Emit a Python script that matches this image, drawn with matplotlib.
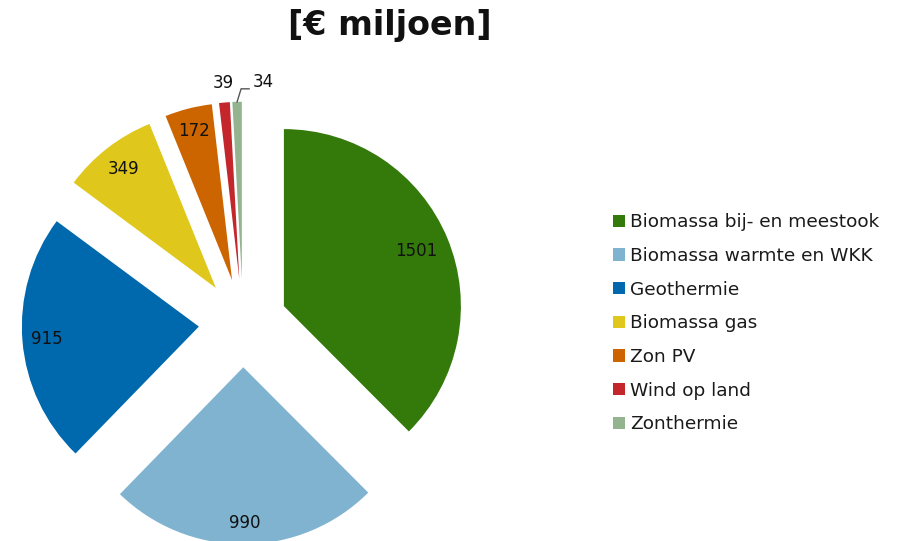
import numpy as np
import matplotlib
matplotlib.use("Agg")
import matplotlib.pyplot as plt

categories = ["Biomassa bij- en meestook", "Biomassa warmte en WKK", "Geothermie",
              "Biomassa gas", "Zon PV", "Wind op land", "Zonthermie"]
values = [1501, 990, 915, 349, 172, 39, 34]
colors = ["#347A0B", "#7FB3D0", "#0068AD", "#E0C71B", "#CC6500", "#C3272B", "#93B48E"]
title = "[€ miljoen]"

W, H = 905, 541
fig = plt.figure(figsize=(W / 100, H / 100), dpi=100)
ax = fig.add_axes([0, 0, 1, 1])

R = 177.0  # px
cx, cy = 243.0, 323.0  # px from top-left
wedges, _ = ax.pie(values, colors=colors, startangle=90, counterclock=False,
                   explode=[0.25] * len(values), radius=1.0,
                   wedgeprops=dict(linewidth=0))
ax.set_xlim(-cx / R, (W - cx) / R)
ax.set_ylim(-(H - cy) / R, cy / R)
ax.set_aspect("equal", adjustable="box")
ax.axis("off")

def mid_dir(w):
    t = np.deg2rad(0.5 * (w.theta1 + w.theta2))
    return np.cos(t), np.sin(t)

inside_dist = [0.81, 0.88, 0.86, 0.85, 0.87]
for w, v, d in zip(wedges[:5], values[:5], inside_dist):
    dx, dy = mid_dir(w)
    x0, y0 = w.center
    ax.text(x0 + d * dx, y0 + d * dy, str(v), ha="center", va="center",
            fontsize=12, color="#111111")

# small slices: labels above
px = 1.0 / R
w = wedges[5]
dx, dy = mid_dir(w)
tx, ty = w.center[0] + dx, w.center[1] + dy
ax.text(tx - 1 * px, ty + 20 * px, str(values[5]), ha="center", va="center",
        fontsize=12, color="#111111")
w = wedges[6]
dx, dy = mid_dir(w)
tx, ty = w.center[0] + dx, w.center[1] + dy
ax.plot([tx, tx + 4 * px, tx + 12 * px], [ty, ty + 13 * px, ty + 13 * px],
        color="#555555", lw=1)
ax.text(tx + 26 * px, ty + 20 * px, str(values[6]), ha="center", va="center",
        fontsize=12, color="#111111")

fig.text(390 / W, 1 - 26 / H, title, ha="center", va="center",
         fontsize=24, fontweight="bold", color="#111111")

fig.legend(wedges, categories, loc="upper left",
           bbox_to_anchor=(604 / W, 1 - 204 / H), frameon=False,
           fontsize=13.3, handlelength=0.65, handleheight=0.65,
           handletextpad=0.25, labelspacing=0.85, borderpad=0,
           labelcolor="#1a1a1a")

fig.savefig("out.png", dpi=100)
